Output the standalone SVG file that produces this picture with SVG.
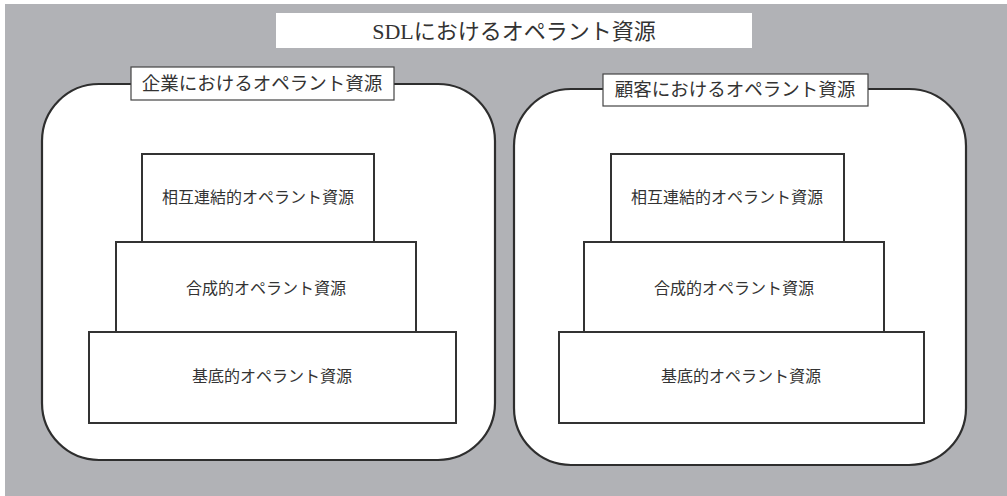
<svg xmlns="http://www.w3.org/2000/svg" width="1007" height="496" viewBox="0 0 1007 496">
<style>
.bg{fill:#b1b2b6}
.frame{fill:#fff;stroke:#2e2e2e;stroke-width:2.2}
.box{fill:#fff;stroke:#333;stroke-width:2}
.lbl{fill:#fff;stroke:#444;stroke-width:1.2}
text{font-family:"Liberation Serif","Noto Sans CJK JP",serif;fill:#333;text-anchor:middle;dominant-baseline:central}
.t{font-size:22px}
.h{font-size:18.5px}
.n{font-size:16px}
</style>
<rect width="1007" height="496" fill="#fff"/>
<rect class="bg" x="5" y="4" width="1002" height="492"/>
<g id="title">
<rect x="276" y="13" width="476" height="35" fill="#fff"/>
<text class="t" x="514" y="31">SDLにおけるオペラント資源</text>
</g>
<g id="company">
<rect class="frame" x="42" y="84" width="453" height="376" rx="57" ry="57"/>
<rect class="lbl" x="131" y="67" width="263" height="33"/>
<text class="h" x="262" y="84">企業におけるオペラント資源</text>
</g>
<g id="company-inter">
<rect class="box" x="142" y="154" width="232" height="88"/>
<text class="n" x="258" y="197">相互連結的オペラント資源</text>
</g>
<g id="company-composite">
<rect class="box" x="116" y="242" width="300" height="90"/>
<text class="n" x="266" y="288">合成的オペラント資源</text>
</g>
<g id="company-base">
<rect class="box" x="89" y="332" width="367" height="91"/>
<text class="n" x="272" y="376">基底的オペラント資源</text>
</g>
<g id="customer">
<rect class="frame" x="514" y="89" width="452" height="376" rx="57" ry="57"/>
<rect class="lbl" x="603" y="74" width="265" height="32"/>
<text class="h" x="735" y="90">顧客におけるオペラント資源</text>
</g>
<g id="customer-inter">
<rect class="box" x="611" y="154" width="233" height="88"/>
<text class="n" x="727" y="197">相互連結的オペラント資源</text>
</g>
<g id="customer-composite">
<rect class="box" x="584" y="242" width="300" height="90"/>
<text class="n" x="734" y="288">合成的オペラント資源</text>
</g>
<g id="customer-base">
<rect class="box" x="559" y="332" width="365" height="91"/>
<text class="n" x="741" y="376">基底的オペラント資源</text>
</g>
<g id="connectors"></g>
</svg>
